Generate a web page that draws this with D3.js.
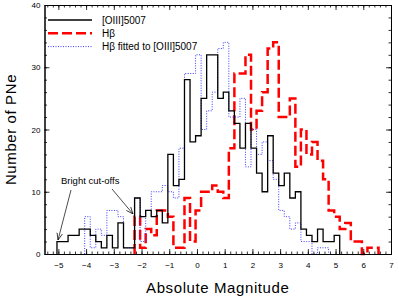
<!DOCTYPE html>
<html>
<head>
<meta charset="utf-8">
<script src="https://cdn.jsdelivr.net/npm/d3@7"></script>
<style>
  body { margin: 0; background: #fff; }
  svg { display: block; font-family: Arial, "Liberation Sans", sans-serif; }
</style>
</head>
<body>
<div id="wrapper"></div>
<script>
// bin centres (absolute magnitude), 0.2 mag wide
const magBins = [
  -4.95, -4.75, -4.55, -4.35, -4.15, -3.95, -3.75, -3.55, -3.35, -3.15,
  -2.95, -2.75, -2.55, -2.35, -2.15, -1.95, -1.75, -1.55, -1.35, -1.15,
  -0.95, -0.75, -0.55, -0.35, -0.15, 0.05, 0.25, 0.45, 0.65, 0.85,
  1.05, 1.25, 1.45, 1.65, 1.85, 2.05, 2.25, 2.45, 2.65, 2.85,
  3.05, 3.25, 3.45, 3.65, 3.85, 4.05, 4.25, 4.45, 4.65, 4.85,
  5.05, 5.25, 5.45, 5.65, 5.85, 6.05, 6.25, 6.45,
];
const binWidth = 0.2;

const oiiiCounts = [
  2, 2, 3, 3, 4, 4, 3, 2, 1, 3,
  1, 5, 1, 1, 9, 6, 7, 6, 7, 5,
  16, 11, 12, 28, 18, 19, 25, 32, 32, 25,
  26, 23, 21, 17, 21, 17, 13, 10, 19, 13,
  11, 13, 9, 10, 4, 3, 2, 4, 2, 2,
  3, null, null, null, null, null, null, null,
];

const hbCounts = [
  null, null, null, null, null, null, null, null, null, null,
  null, null, null, null, 6, 1, 4, 3, 7, 7,
  6, 1, 1, 9, 2, 7, 10, 10, 11, 10,
  9, 17, 29, 29, 32, 20, 23, 26, 33, 34,
  22, 22, 25, 14, 20, 16, 18, 15, 12, 7,
  6, 4, 5, 2, 2, 0, 1, 1,
];

const hbFitCounts = [
  null, null, null, null, null, 6, 1, 4, 3, 7,
  7, 6, 1, 1, 9, 2, 7, 10, 10, 11,
  10, 9, 17, 29, 29, 32, 20, 23, 26, 33,
  34, 22, 22, 25, 14, 20, 16, 18, 15, 12,
  7, 6, 4, 5, 2, 2, 0, 1, 1, null,
  null, null, null, null, null, null, null, null,
];

const xTicks = [-5, -4, -3, -2, -1, 0, 1, 2, 3, 4, 5, 6, 7];
const yTicks = [0, 10, 20, 30, 40];
const seriesNames = ['[OIII]5007', 'H\u03b2', 'H\u03b2 fitted to [OIII]5007'];

const width = 399;
const height = 299;
const frame = { left: 44.5, right: 391, top: 5, bottom: 254 };

const svg = d3.select('#wrapper').append('svg')
  .attr('width', width)
  .attr('height', height);

const xScale = d3.scaleLinear().domain([-5.5, 7]).range([frame.left, frame.right]);
const yScale = d3.scaleLinear().domain([0, 40]).range([frame.bottom, frame.top]);

const styles = [
  { color: '#000', width: 1.3, dash: null },
  { color: '#ff0000', width: 2.5, dash: '10,4' },
  { color: '#3a3aff', width: 1, dash: '1,1.5' },
];

// turn a count array into step-histogram points
const toSteps = (counts) => {
  const bins = magBins
    .map((m, i) => ({ x0: m - binWidth / 2, x1: m + binWidth / 2, n: counts[i] }))
    .filter((d) => d.n !== null);
  const pts = [[bins[0].x0, 0]];
  bins.forEach((b) => pts.push([b.x0, b.n]));
  const last = bins[bins.length - 1];
  pts.push([last.x1, 0]);
  return pts;
};

const stepLine = d3.line()
  .x((d) => xScale(d[0]))
  .y((d) => yScale(d[1]))
  .curve(d3.curveStepAfter);

const plot = svg.append('g');
[[hbCounts, styles[1]], [hbFitCounts, styles[2]], [oiiiCounts, styles[0]]].forEach(([counts, s]) => {
  plot.append('path')
    .attr('d', stepLine(toSteps(counts)))
    .attr('fill', 'none')
    .attr('stroke', s.color)
    .attr('stroke-width', s.width)
    .attr('stroke-dasharray', s.dash)
    .attr('stroke-linejoin', 'miter');
});

// axes, ticks pointing inward on all four sides
const axisG = svg.append('g').attr('class', 'axes');
const xMinor = d3.range(-5.4, 7.01, 0.2);
const yMinor = d3.range(0, 40.01, 2);

const addAxis = (gen, transform, values, size, labels) => {
  const g = axisG.append('g')
    .attr('transform', transform)
    .call(gen.tickValues(values).tickSize(size).tickSizeOuter(0)
      .tickFormat(labels ? d3.format('d') : ''));
  g.select('.domain').attr('stroke', '#000').attr('stroke-width', 1);
  g.selectAll('.tick line').attr('stroke', '#000').attr('stroke-width', 0.8);
  g.selectAll('text').attr('fill', '#000').style('font-size', '8px');
  return g;
};

addAxis(d3.axisBottom(xScale).tickPadding(8), `translate(0,${frame.bottom})`, xTicks, -5, true);
addAxis(d3.axisBottom(xScale), `translate(0,${frame.bottom})`, xMinor, -2.5, false);
addAxis(d3.axisTop(xScale), `translate(0,${frame.top})`, xTicks, -5, false);
addAxis(d3.axisTop(xScale), `translate(0,${frame.top})`, xMinor, -2.5, false);
addAxis(d3.axisLeft(yScale).tickPadding(4), `translate(${frame.left},0)`, yTicks, -5, true);
addAxis(d3.axisLeft(yScale), `translate(${frame.left},0)`, yMinor, -2.5, false);
addAxis(d3.axisRight(yScale), `translate(${frame.right},0)`, yTicks, -5, false);
addAxis(d3.axisRight(yScale), `translate(${frame.right},0)`, yMinor, -2.5, false);

// axis titles
svg.append('text')
  .attr('x', (frame.left + frame.right) / 2)
  .attr('y', 293)
  .attr('text-anchor', 'middle')
  .style('font-size', '15px')
  .style('letter-spacing', '0.6px')
  .text('Absolute Magnitude');

svg.append('text')
  .attr('transform', 'translate(16,129.5) rotate(-90)')
  .attr('text-anchor', 'middle')
  .style('font-size', '15px')
  .style('letter-spacing', '0.6px')
  .text('Number of PNe');

// legend
const legend = svg.append('g');
seriesNames.forEach((name, i) => {
  const y = 20 + i * 13.3;
  legend.append('line')
    .attr('x1', 48).attr('x2', 92)
    .attr('y1', y).attr('y2', y)
    .attr('stroke', styles[i].color)
    .attr('stroke-width', styles[i].width)
    .attr('stroke-dasharray', styles[i].dash);
  legend.append('text')
    .attr('x', 102)
    .attr('y', y + 3.5)
    .style('font-size', '10px')
    .text(name);
});

// annotation with arrows
svg.append('defs').append('marker')
  .attr('id', 'arrow')
  .attr('viewBox', '0 0 10 10')
  .attr('refX', 10).attr('refY', 5)
  .attr('markerWidth', 7).attr('markerHeight', 7)
  .attr('markerUnits', 'userSpaceOnUse')
  .attr('orient', 'auto')
  .append('path')
  .attr('d', 'M0,1 L10,5 L0,9')
  .attr('fill', 'none')
  .attr('stroke', '#000')
  .attr('stroke-width', 1);

svg.append('text')
  .attr('x', 61)
  .attr('y', 183.5)
  .style('font-size', '9.5px')
  .text('Bright cut-offs');

[[71, 190, 58, 240], [112, 189, 133, 214]].forEach(([x1, y1, x2, y2]) => {
  svg.append('line')
    .attr('x1', x1).attr('y1', y1)
    .attr('x2', x2).attr('y2', y2)
    .attr('stroke', '#000')
    .attr('stroke-width', 0.7)
    .attr('marker-end', 'url(#arrow)');
});
</script>
</body>
</html>
